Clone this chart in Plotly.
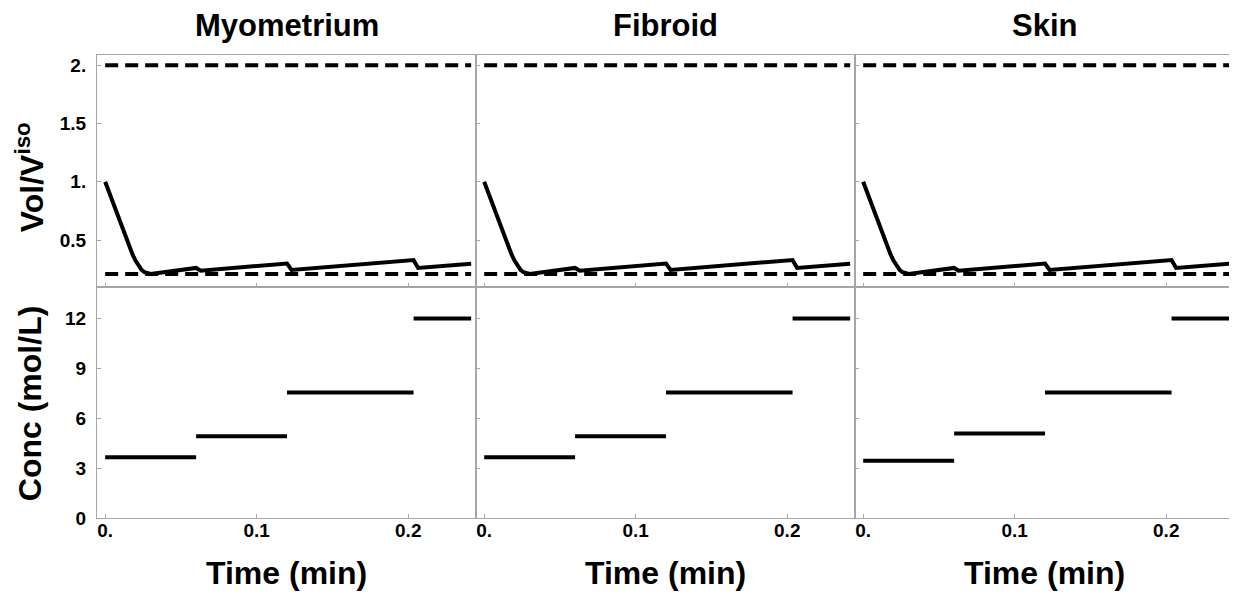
import plotly.graph_objects as go
from plotly.subplots import make_subplots

# panel titles
tissues = ['Myometrium', 'Fibroid', 'Skin']

# relative volume curve (same shape for all three tissues)
t_vol = [0.0, 0.004, 0.008, 0.012, 0.014, 0.016, 0.018, 0.020, 0.022,
         0.024, 0.026, 0.028, 0.030,
         0.0600, 0.0630, 0.1200, 0.1230, 0.2035, 0.2065, 0.2415]
vol = [1.0, 0.86, 0.72, 0.58, 0.51, 0.44, 0.38, 0.325, 0.28,
       0.245, 0.225, 0.213, 0.21,
       0.262, 0.238, 0.300, 0.245, 0.330, 0.262, 0.298]

# osmotic tolerance limits
vol_limits = [2.0, 0.21]

# concentration steps: switch times and levels for each tissue
step_t = [0.0, 0.060, 0.120, 0.2035, 0.2415]
conc = {
    'Myometrium': [3.65, 4.92, 7.55, 12.0],
    'Fibroid': [3.65, 4.92, 7.55, 12.0],
    'Skin': [3.45, 5.08, 7.55, 12.0],
}

# tick labels
vol_ticks = [0.5, 1.0, 1.5, 2.0]
vol_tick_text = ['0.5', '1.', '1.5', '2.']
conc_ticks = [0, 3, 6, 9, 12]
time_ticks = [0.0, 0.1, 0.2]
time_tick_text = ['0.', '0.1', '0.2']

frame = '#a6a6a6'
font_name = 'Liberation Sans, Arial, sans-serif'

fig = make_subplots(rows=2, cols=3, horizontal_spacing=0, vertical_spacing=0)

for c, name in enumerate(tissues, start=1):
    # volume curve
    fig.add_trace(go.Scatter(x=t_vol, y=vol, mode='lines',
                             line=dict(color='black', width=4),
                             showlegend=False), row=1, col=c)
    # dashed limits
    for lim in vol_limits:
        fig.add_trace(go.Scatter(x=[step_t[0], step_t[-1]], y=[lim, lim], mode='lines',
                                 line=dict(color='black', width=4, dash='13px,7px'),
                                 showlegend=False), row=1, col=c)
    # concentration steps
    for i, level in enumerate(conc[name]):
        fig.add_trace(go.Scatter(x=[step_t[i], step_t[i + 1]], y=[level, level], mode='lines',
                                 line=dict(color='black', width=4),
                                 showlegend=False), row=2, col=c)

axis_common = dict(showline=True, linecolor=frame, linewidth=1, mirror=True,
                   showgrid=False, zeroline=False, ticks='inside', ticklen=4,
                   tickcolor=frame, tickwidth=1,
                   tickfont=dict(family=font_name, size=19, color='black', weight='bold'))

for c in range(1, 4):
    fig.update_xaxes(range=[-0.0054, 0.2447], tickvals=time_ticks,
                     ticktext=time_tick_text, showticklabels=False,
                     row=1, col=c, **axis_common)
    fig.update_xaxes(range=[-0.0054, 0.2447], tickvals=time_ticks,
                     ticktext=time_tick_text, showticklabels=True,
                     ticklabelstandoff=-5, row=2, col=c, **axis_common)
    fig.update_yaxes(range=[0.103, 2.087], tickvals=vol_ticks, ticktext=vol_tick_text,
                     showticklabels=(c == 1), ticklabelstandoff=6,
                     row=1, col=c, **axis_common)
    fig.update_yaxes(range=[0, 13.93], tickvals=conc_ticks,
                     showticklabels=(c == 1), ticklabelstandoff=6,
                     row=2, col=c, **axis_common)

# panel titles and x-axis titles
for c, name in enumerate(tissues):
    xc = (c + 0.5) / 3
    fig.add_annotation(text='<b>%s</b>' % name, x=xc, y=1.0, xref='paper', yref='paper',
                       xanchor='center', yanchor='middle', yshift=30, showarrow=False,
                       font=dict(family=font_name, size=31, color='black'))
    fig.add_annotation(text='<b>Time (min)</b>', x=xc, y=0.0, xref='paper', yref='paper',
                       xanchor='center', yanchor='middle', yshift=-55, showarrow=False,
                       font=dict(family=font_name, size=32, color='black'))

# y-axis titles
fig.add_annotation(text='<b>Vol/V<sup>iso</sup></b>', x=0, y=0.736, xref='paper', yref='paper',
                   xanchor='center', yanchor='middle', xshift=-67, textangle=-90,
                   showarrow=False, font=dict(family=font_name, size=32, color='black'))
fig.add_annotation(text='<b>Conc (mol/L)</b>', x=0, y=0.248, xref='paper', yref='paper',
                   xanchor='center', yanchor='middle', xshift=-67, textangle=-90,
                   showarrow=False, font=dict(family=font_name, size=32, color='black'))

# page body has an 8px margin, so shrink the figure to keep the plot area in place
fig.update_layout(
    width=1229, height=589,
    margin=dict(l=89, r=3, t=47, b=79),
    plot_bgcolor='white', paper_bgcolor='white',
    font=dict(family=font_name, color='black'),
)

fig.write_html('out.html')
